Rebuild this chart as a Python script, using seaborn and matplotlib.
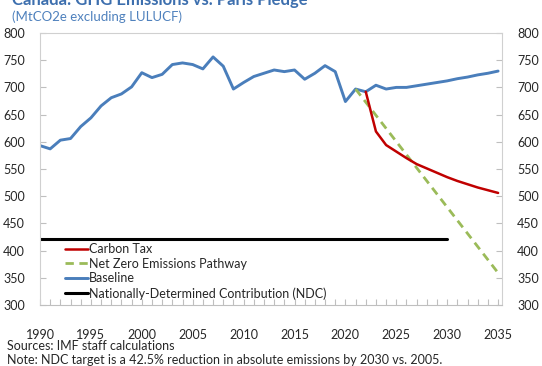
import matplotlib
matplotlib.use("Agg")
import matplotlib.pyplot as plt
import seaborn as sns
import pandas as pd

# Baseline emissions, MtCO2e
base_years = list(range(1990, 2036))
baseline = [593, 587, 603, 606, 628, 644, 666, 681, 688, 701,
            727, 718, 724, 742, 745, 742, 734, 756, 739, 697,
            709, 720, 726, 732, 729, 732, 715, 726, 740, 729,
            674, 697, 692, 704, 697, 700, 700, 703, 706, 709,
            712, 716, 719, 723, 726, 730]

# Carbon tax scenario
tax_years = list(range(2022, 2036))
carbon_tax = [692, 619, 594, 582, 570, 559, 551, 543, 535, 528, 522, 516, 511, 506]

# Net zero pathway (straight line)
nz_years = [2021, 2035]
net_zero = [697, 359]

# NDC target
ndc_years = [1990, 2030]
ndc = [422, 422]

sns.set_style("white")
plt.rcParams["font.family"] = ["Lato", "DejaVu Sans"]

fig = plt.figure(figsize=(5.42, 3.66), dpi=100)
ax = fig.add_axes([40 / 542, 1 - 305 / 366, 462 / 542, 272 / 366])

sns.lineplot(x=ndc_years, y=ndc, ax=ax, color="black", lw=2.2)
sns.lineplot(x=base_years, y=baseline, ax=ax, color="#4a7ebb", lw=2.1)
sns.lineplot(x=nz_years, y=net_zero, ax=ax, color="#9bbb59", lw=2.0,
             linestyle=(0, (3, 2)))
sns.lineplot(x=tax_years, y=carbon_tax, ax=ax, color="#c00000", lw=1.8)

lines = ax.get_lines()
handles = [lines[3], lines[2], lines[1], lines[0]]
labels = ["Carbon Tax", "Net Zero Emissions Pathway", "Baseline",
          "Nationally-Determined Contribution (NDC)"]
fig.legend(handles, labels, loc="upper left", bbox_to_anchor=(65 / 542, 1 - 243 / 366),
           frameon=False, fontsize=9, handlelength=1.85, handletextpad=0.05,
           labelspacing=0.22, borderpad=0, borderaxespad=0)

ax.set_xlim(1990, 1990 + 462 / 10.18)
ax.set_ylim(300, 800)
ax.set_yticks(range(300, 801, 50))
ax.set_xticks(range(1990, 2036))
ax.set_xticklabels([str(y) if y % 5 == 0 else "" for y in range(1990, 2036)])
ax.tick_params(axis="y", direction="in", length=4, color="#bfbfbf", labelsize=9,
               left=True, right=True, labelright=True, pad=11)
ax.tick_params(axis="x", direction="in", length=4, color="#bfbfbf", labelsize=9,
               bottom=True, pad=17)
for s in ax.spines.values():
    s.set_color("#d0d0d0")
    s.set_linewidth(0.8)
ax.spines["bottom"].set_color("#bfbfbf")
ax.set_xlabel("")
ax.set_ylabel("")

fig.text(12 / 542, 1 - 5 / 366, "Canada: GHG Emissions vs. Paris Pledge", fontsize=12,
         fontweight="bold", color="#3d6fae", va="baseline", ha="left")
fig.text(12 / 542, 1 - 17 / 366, "(MtCO2e excluding LULUCF)", fontsize=9.5,
         color="#4f81bd", va="center", ha="left")
fig.text(7 / 542, 1 - 346 / 366, "Sources: IMF staff calculations", fontsize=9,
         va="center", ha="left")
fig.text(7 / 542, 1 - 360 / 366,
         "Note: NDC target is a 42.5% reduction in absolute emissions by 2030 vs. 2005.",
         fontsize=9, va="center", ha="left")

fig.savefig("out.png", dpi=100)
